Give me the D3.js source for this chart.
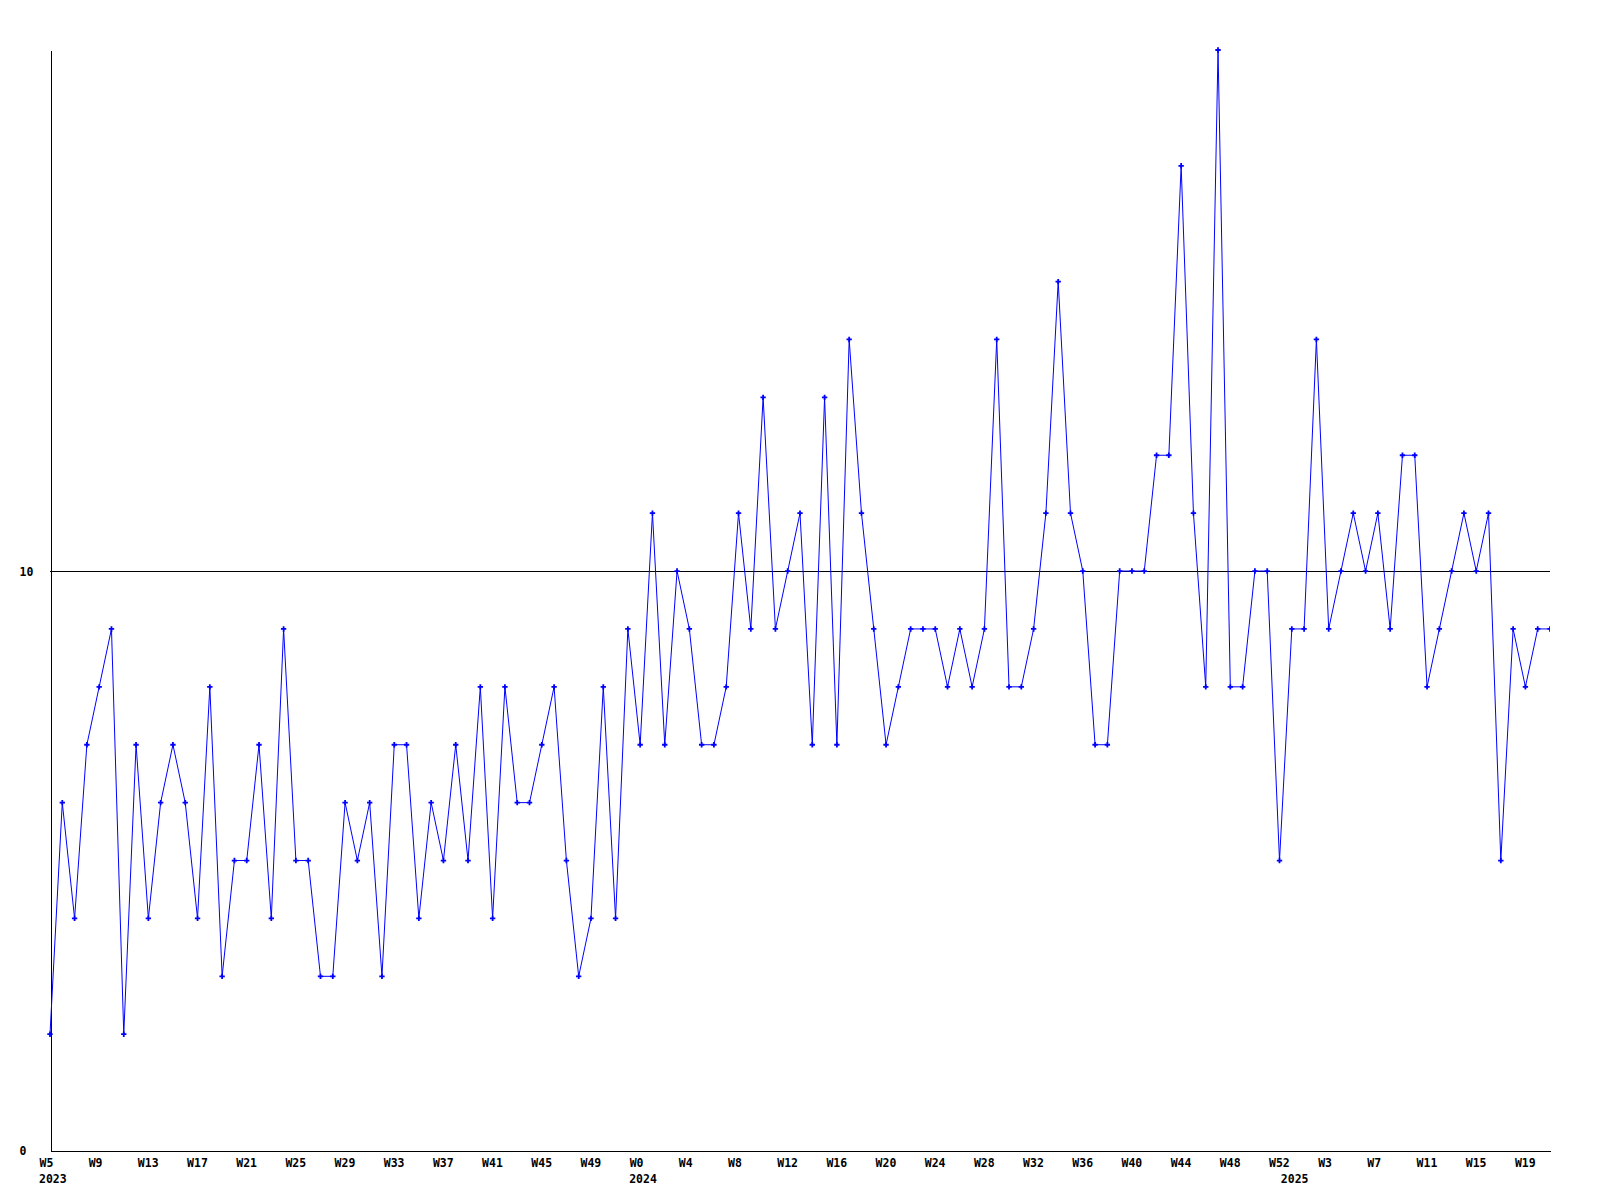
<!DOCTYPE html>
<html>
<head>
<meta charset="utf-8">
<script src="https://cdn.jsdelivr.net/npm/d3@7"></script>
<style>
  html, body { margin: 0; padding: 0; background: #ffffff; }
  svg { display: block; }
  text { font-family: "DejaVu Sans Mono", "Liberation Mono", monospace; font-weight: bold; font-size: 11.5px; fill: #000; }
</style>
</head>
<body>
<script>
// ---- data ----
const weeks2023 = d3.range(5, 53);   // W5 .. W52
const weeks2024 = d3.range(0, 53);   // W0 .. W52
const weeks2025 = d3.range(0, 22);   // W0 .. W21
const categories = [
  ...weeks2023.map(w => `2023-W${w}`),
  ...weeks2024.map(w => `2024-W${w}`),
  ...weeks2025.map(w => `2025-W${w}`)
];

const values2023 = [2,6,4,7,8,9,2,7,4,6,7,6,4,8,3,5,5,7,4,9,5,5,3,3,6,5,6,3,7,7,4,6,5,7,5,8,4,8,6,6,7,8,5,3,4,8,4,9];
const values2024 = [7,11,7,10,9,7,7,8,11,9,13,9,10,11,7,13,7,14,11,9,7,8,9,9,9,8,9,8,9,14,8,8,9,11,15,11,10,7,7,10,10,10,12,12,17,11,8,19,8,8,10,10,5];
const values2025 = [9,9,14,9,10,11,10,11,9,12,12,8,9,10,11,10,11,5,9,8,9,9];
const values = [...values2023, ...values2024, ...values2025];

const tickCategories = ["2023-W5","2023-W9","2023-W13","2023-W17","2023-W21","2023-W25","2023-W29","2023-W33","2023-W37","2023-W41","2023-W45","2023-W49",
  "2024-W0","2024-W4","2024-W8","2024-W12","2024-W16","2024-W20","2024-W24","2024-W28","2024-W32","2024-W36","2024-W40","2024-W44","2024-W48","2024-W52",
  "2025-W3","2025-W7","2025-W11","2025-W15","2025-W19"];
const tickLabels = ["W5","W9","W13","W17","W21","W25","W29","W33","W37","W41","W45","W49",
  "W0","W4","W8","W12","W16","W20","W24","W28","W32","W36","W40","W44","W48","W52",
  "W3","W7","W11","W15","W19"];
const yearLabels = ["2023","2024","2025"];
const yearCategories = ["2023-W5","2024-W0","2025-W0"];
const yTicks = [0, 10];
const yMax = 19;

// ---- chart ----
const W = 1600, H = 1200;
const mLeft = 50, mRight = 1550, mTop = 50, mBottom = 1150;

const svg = d3.select("body").append("svg")
  .attr("width", W).attr("height", H)
  .style("background", "#fff");

const x = d3.scalePoint().domain(categories).range([mLeft, mRight]);
const y = d3.scaleLinear().domain([0, yMax]).range([mBottom, mTop]);

svg.append("defs").append("clipPath").attr("id", "plotclip")
  .append("rect").attr("x", 0).attr("y", 0).attr("width", mRight).attr("height", H);

// reference line at 10
svg.append("g").selectAll("line").data(yTicks.filter(d => d > 0)).join("line")
  .attr("x1", mLeft).attr("x2", mRight)
  .attr("y1", d => Math.round(y(d)) + 0.5).attr("y2", d => Math.round(y(d)) + 0.5)
  .attr("stroke", "#000").attr("stroke-width", 1).attr("shape-rendering", "crispEdges");

// x axis
const tickLabelMap = new Map(tickCategories.map((c, i) => [c, tickLabels[i]]));
const xAxis = svg.append("g").attr("transform", `translate(0,${mBottom + 0.5})`)
  .call(d3.axisBottom(x).tickValues(tickCategories).tickFormat(c => tickLabelMap.get(c)).tickSize(0).tickSizeOuter(0));
xAxis.select(".domain").attr("stroke", "#000").attr("shape-rendering", "crispEdges");
xAxis.selectAll(".tick text")
  .attr("text-anchor", "start").attr("x", -11).attr("y", 16.5).attr("dy", 0)
  .style("font-family", '"DejaVu Sans Mono", monospace').style("font-size", "11.5px").style("font-weight", "bold");

// year labels
svg.append("g").selectAll("text").data(yearLabels).join("text")
  .attr("x", (d, i) => x(yearCategories[i]) - 11)
  .attr("y", mBottom + 33)
  .text(d => d);

// y axis
const yAxis = svg.append("g").attr("transform", `translate(${mLeft + 0.5},0)`)
  .call(d3.axisLeft(y).tickValues(yTicks).tickFormat(d3.format("d")).tickSize(0).tickSizeOuter(0));
yAxis.select(".domain").attr("stroke", "#000").attr("shape-rendering", "crispEdges");
yAxis.selectAll(".tick text")
  .attr("text-anchor", "start").attr("x", 19.5 - mLeft - 0.5).attr("y", 4.5).attr("dy", 0)
  .style("font-family", '"DejaVu Sans Mono", monospace').style("font-size", "11.5px").style("font-weight", "bold");

// series
const pts = categories.map((c, i) => ({ c, v: values[i] }));
const plot = svg.append("g").attr("clip-path", "url(#plotclip)");

plot.append("path").datum(pts)
  .attr("fill", "none").attr("stroke", "#0000ff").attr("stroke-width", 1)
  .attr("d", d3.line().x(d => x(d.c)).y(d => y(d.v)));

plot.selectAll("path.m").data(pts).join("path").attr("class", "m")
  .attr("transform", d => `translate(${x(d.c)},${y(d.v)})`)
  .attr("d", d3.symbol(d3.symbolCross, 16))
  .attr("fill", "#0000ff");
</script>
</body>
</html>
